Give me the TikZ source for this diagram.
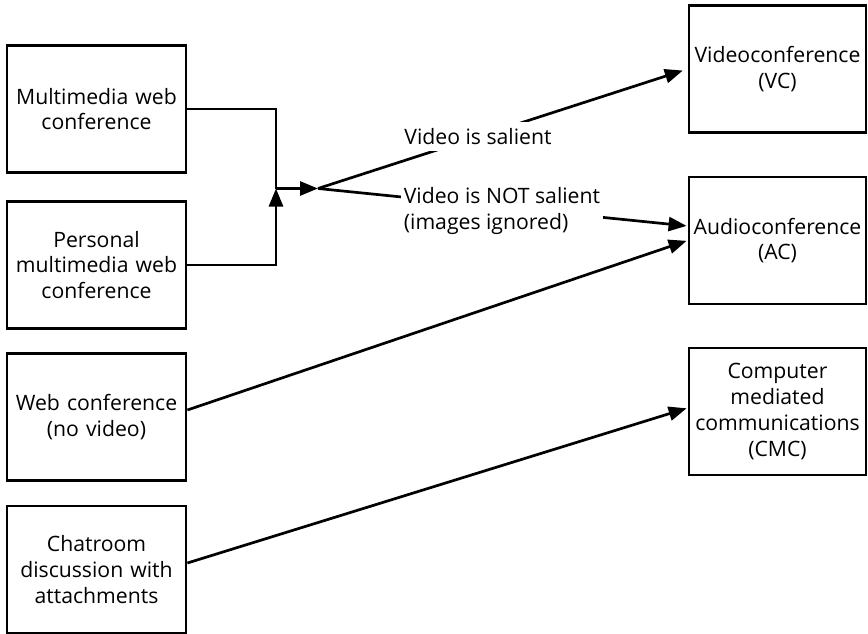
\documentclass[tikz,border=0pt]{standalone}
\usepackage{fontspec}
\setmainfont{Open Sans}
\usetikzlibrary{arrows.meta}
\begin{document}
\begin{tikzpicture}[x=1pt,y=-1pt,
  font=\fontsize{21.2}{25.7}\selectfont,
  every node/.style={inner sep=0pt},
  box/.style={draw, line width=2.8pt, minimum width=179pt, minimum height=127pt, align=center, text width=176pt},
  rbox/.style={box, minimum width=177pt, text width=176pt},
  link/.style={line width=2.7pt},
  tip/.style={link, -{Triangle[length=18pt,width=14pt]}},
  lbl/.style={fill=white, inner xsep=3pt, inner ysep=6pt, align=left}]
\useasboundingbox (0,0) rectangle (868,634);

% sources on the left
\node[box] (b1) at (96.5,109) {Multimedia web\\conference};
\node[box] (b2) at (96.5,265) {Personal\\multimedia web\\conference};
\node[box] (b3) at (96.5,417) {Web conference\\(no video)};
\node[box] (b4) at (96.5,569.5) {Chatroom\\discussion with\\attachments};

% outcomes on the right
\node[rbox] (vc) at (777.5,69) {Videoconference\\(VC)};
\node[rbox] (ac) at (777.5,240.5) {Audioconference\\(AC)};
\node[rbox] (cmc) at (777.5,411.5) {Computer\\mediated\\communications\\(CMC)};

% merge of the two multimedia sources
\coordinate (j) at (276,188.5);
\coordinate (f) at (318,188.5);
\draw[link] (b1.east) -| (j);
\draw[tip] (b2.east) -| (j);
\draw[tip] (j) -- (f);

% branches
\draw[tip, shorten >=5pt] (f) -- (vc.west);
\draw[tip, shorten >=1pt] (f) -- ([yshift=14.5pt]ac.west);
\draw[tip, shorten >=1pt] ([yshift=7pt]b3.east) -- (ac.west);
\draw[tip, shorten >=1pt] ([yshift=6.5pt]b4.east) -- ([yshift=3.5pt]cmc.west);

% branch labels, set over the lines
\node[lbl] (l1) at (478,136.5) {Video is salient};
\node[lbl] (l2) at (502,211) {Video is NOT salient\\(images ignored)};
\end{tikzpicture}
\end{document}
